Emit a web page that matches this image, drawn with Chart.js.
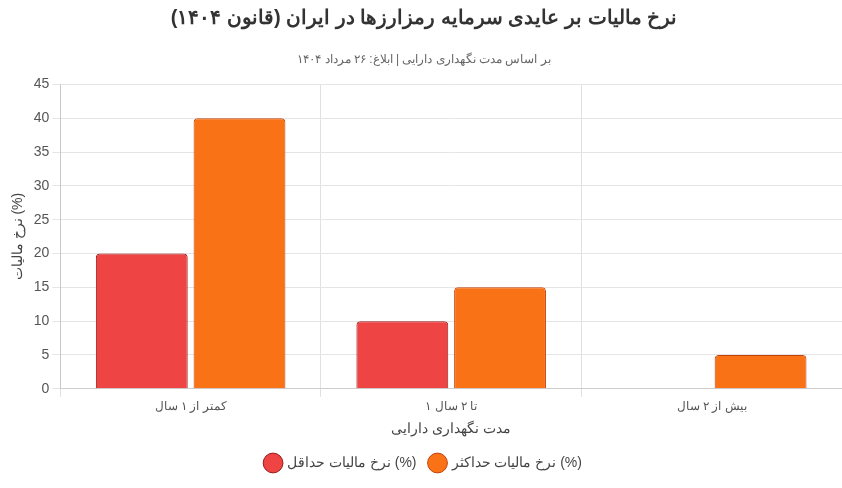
<!DOCTYPE html>
<html><head><meta charset="utf-8">
<script src="https://cdn.jsdelivr.net/npm/chart.js@4"></script>
<style>html,body{margin:0;padding:0;background:#fff}#w{width:842px;height:488px}</style>
</head><body><div id="w"><canvas id="c"></canvas></div>
<script>
const categories=["کمتر از ۱ سال","۱ تا ۲ سال","بیش از ۲ سال"];
const minRates=[20,10,0];
const maxRates=[40,15,5];
const yTicks=[0,5,10,15,20,25,30,35,40,45];
Chart.defaults.font.family="'Liberation Sans', Arial, sans-serif";
new Chart(document.getElementById('c'),{type:'bar',
data:{labels:categories,datasets:[
{label:"نرخ مالیات حداقل (%)",data:minRates,backgroundColor:'#ef4444',borderColor:'#991b1b',borderWidth:1,borderRadius:4,barPercentage:0.94,categoryPercentage:0.75},
{label:"نرخ مالیات حداکثر (%)",data:maxRates,backgroundColor:'#f97316',borderColor:'#c2410c',borderWidth:1,borderRadius:4,barPercentage:0.94,categoryPercentage:0.75}]},
options:{responsive:true,maintainAspectRatio:false,animation:false,
layout:{padding:{left:6,right:0,top:6,bottom:8}},
plugins:{title:{display:true,text:"نرخ مالیات بر عایدی سرمایه رمزارزها در ایران (قانون ۱۴۰۴)",font:{size:20,weight:'bold'},color:'#333',padding:{top:0,bottom:22}},
subtitle:{display:true,text:"بر اساس مدت نگهداری دارایی | ابلاغ: ۲۶ مرداد ۱۴۰۴",font:{size:12},color:'#666',padding:{bottom:18}},
legend:{position:'bottom',labels:{usePointStyle:true,pointStyle:'circle',font:{size:14},color:'#444',padding:14}}},
scales:{x:{grid:{color:'#e0e0e0',offset:true},ticks:{color:'#555',font:{size:12}},title:{display:true,text:"مدت نگهداری دارایی",font:{size:14},color:'#444'}},
y:{min:0,max:45,afterBuildTicks:a=>{a.ticks=yTicks.map(v=>({value:v}))},grid:{color:'#e5e5e5'},ticks:{color:'#555',font:{size:14}},title:{display:true,text:"نرخ مالیات (%)",font:{size:14},color:'#444'}}}}});
</script></body></html>
